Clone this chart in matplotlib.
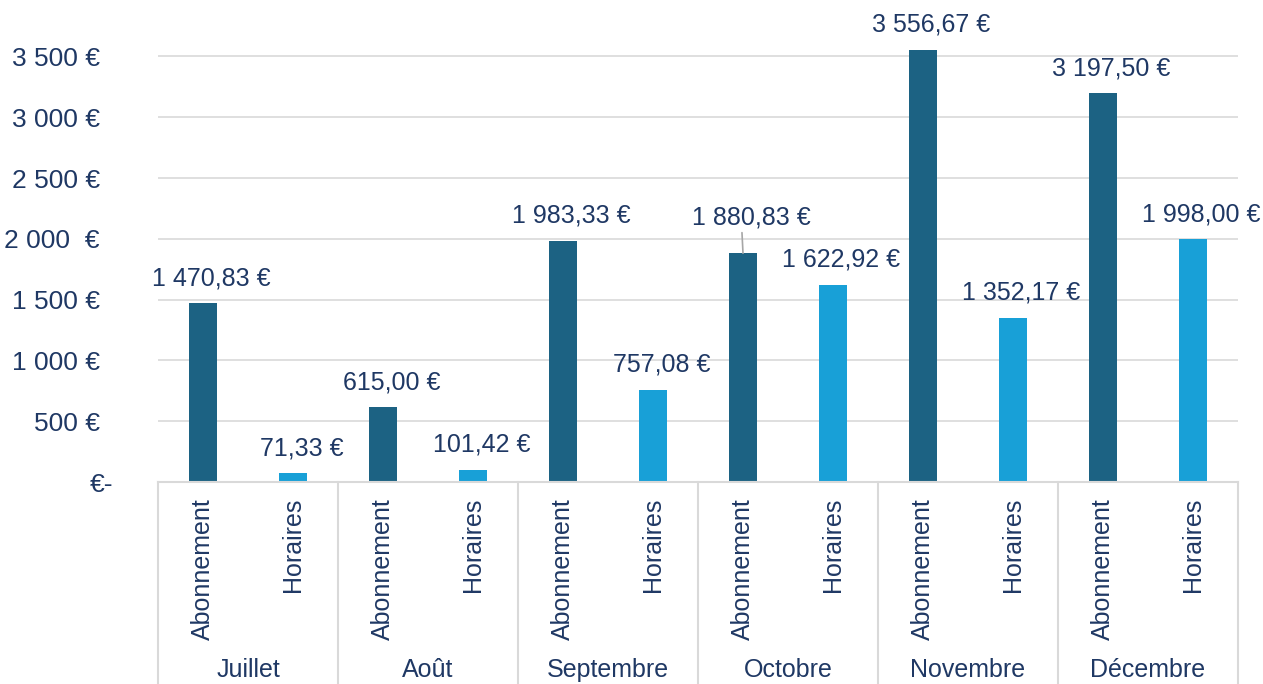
import numpy as np
import matplotlib.pyplot as plt
from matplotlib.transforms import ScaledTranslation, blended_transform_factory

months = ['Juillet', 'Août', 'Septembre', 'Octobre', 'Novembre', 'Décembre']
kinds = ['Abonnement', 'Horaires']
abonnement = [1470.83, 615.00, 1983.33, 1880.83, 3556.67, 3197.50]
horaires = [71.33, 101.42, 757.08, 1622.92, 1352.17, 1998.00]
yticks = [0, 500, 1000, 1500, 2000, 2500, 3000, 3500]
ytick_labels = ['€-', '500 €', '1 000 €', '1 500 €', '2 000  €',
                '2 500 €', '3 000 €', '3 500 €']

TEXT = '#1F3864'
DARK = '#1C6283'
LIGHT = '#18A0D7'
GRID = '#D9D9D9'


def euro(v):
    s = f'{v:,.2f}'.replace(',', ' ').replace('.', ',')
    return s + ' €'


def main():
    plt.rcParams['font.family'] = ['Liberation Sans', 'DejaVu Sans']
    plt.rcParams['font.size'] = 18

    fig = plt.figure(figsize=(12.63, 6.84), dpi=100)
    ax = fig.add_axes([158 / 1263, 1 - 482 / 684, 1080 / 1263, 456 / 684])

    # interleave the two series: Abonnement, Horaires per month
    values = []
    colors = []
    for a, h in zip(abonnement, horaires):
        values += [a, h]
        colors += [DARK, LIGHT]
    x = np.arange(len(values))
    ax.bar(x, values, width=0.31, color=colors, zorder=2)

    ax.set_xlim(-0.5, len(values) - 0.5)
    ax.set_ylim(0, 3750)
    ax.set_yticks(yticks)
    ax.set_yticklabels(ytick_labels, color=TEXT, fontsize=19)
    ax.tick_params(axis='y', length=0, pad=42)
    ax.tick_params(axis='x', length=0, labelbottom=False)
    ax.yaxis.grid(True, color=GRID, lw=1.2, zorder=0)
    ax.set_axisbelow(True)
    for side in ['left', 'right', 'top']:
        ax.spines[side].set_visible(False)
    ax.spines['bottom'].set_color(GRID)
    ax.spines['bottom'].set_linewidth(1.5)

    # "€-" sits further right than the other tick labels
    zero_lbl = ax.get_yticklabels()[0]
    zero_lbl.set_transform(zero_lbl.get_transform()
                           + ScaledTranslation(14 / 100, 0, fig.dpi_scale_trans))

    # value labels
    for i, v in enumerate(values):
        if i == 6:  # Octobre Abonnement label pushed up with a leader line
            ax.annotate(euro(v), (i, v), xytext=(6, 25.5), textcoords='offset points',
                        ha='center', va='center', color=TEXT,
                        arrowprops=dict(arrowstyle='-', color='#A6A6A6', lw=1.2,
                                        shrinkA=0, shrinkB=0,
                                        relpos=(0.42, 0)))
        else:
            ax.annotate(euro(v), (i, v), xytext=(6, 18), textcoords='offset points',
                        ha='center', va='center', color=TEXT)

    # two-level category axis
    tr = blended_transform_factory(ax.transData, ax.transAxes)
    for i in x:
        ax.text(i, -16 / 456, kinds[i % 2], rotation=90, ha='center', va='top',
                color=TEXT, transform=tr)
    for j, m in enumerate(months):
        ax.text(2 * j + 0.5, -188 / 456, m, ha='center', va='center',
                color=TEXT, transform=tr)
    for b in np.arange(-0.5, len(values), 2):
        ax.plot([b, b], [0, -220 / 456], color=GRID, lw=1.5, transform=tr,
                clip_on=False)

    fig.savefig('out.png', dpi=100)


if __name__ == '__main__':
    main()
